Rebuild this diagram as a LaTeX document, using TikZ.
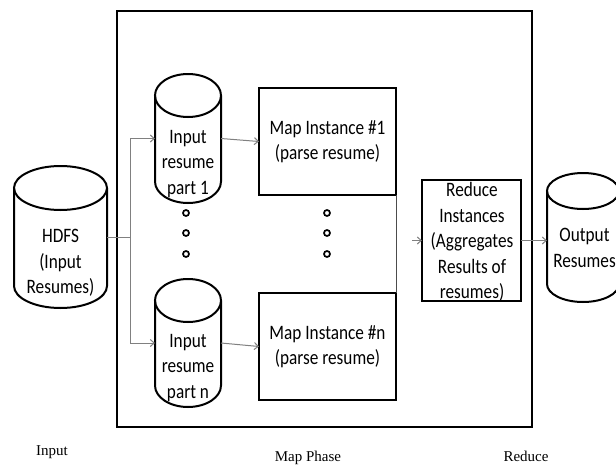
\documentclass[tikz,border=0pt]{standalone}
\usepackage{fontspec}
\setmainfont{Carlito}[FakeStretch=0.84]
\newfontfamily\serifl{Liberation Serif}
\usetikzlibrary{arrows.meta}
\newcommand{\cyl}[5]{% cx rx ytop ybot ry
  \draw[boxline] (#1-#2,-#3-#5) -- (#1-#2,-#4+#5)
     arc[start angle=180,end angle=360,x radius=#2,y radius=#5] -- (#1+#2,-#3-#5);
  \draw[boxline] (#1,-#3-#5) ellipse[x radius=#2,y radius=#5];}
\begin{document}
\begin{tikzpicture}[x=1pt,y=1pt,
  boxline/.style={line width=2pt,black},
  body/.style={draw=none,inner sep=0pt,outer sep=0pt},
  box/.style={draw,line width=2pt,inner sep=0pt,outer sep=0pt,align=center,
     font=\fontsize{20.5}{25.5}\selectfont},
  txt/.style={align=center,inner sep=0pt,font=\fontsize{20.5}{25.5}\selectfont},
  conn/.style={draw=black!50,line width=1pt},
  arr/.style={conn,-{Straight Barb[length=4pt,width=7pt]}},
  dot/.style={draw,line width=1.7pt,circle,minimum size=6pt,inner sep=0pt},
  captxt/.style={font=\serifl\fontsize{15}{16}\selectfont,inner sep=0pt}]
\useasboundingbox (0,0) rectangle (616,-466);
\fill[white] (0,0) rectangle (616,-466);

% big Map phase box
\node[draw,line width=2pt,minimum width=415pt,minimum height=416pt,inner sep=0pt] (phase) at (324.5,-219) {};

% cylinders
\cyl{60.5}{46.5}{166}{308}{22}
\node[body,minimum width=93pt,minimum height=142pt] (hdfs) at (60.5,-237) {};
\node[txt] (hdfst) at (60.5,-263) {HDFS\\(Input\\Resumes)};

\cyl{188}{33}{74}{203}{21.5}
\node[body,minimum width=66pt,minimum height=129pt] (in1) at (188,-138.5) {};
\node[txt] (in1t) at (188,-164) {Input\\resume\\part 1};

\cyl{188}{33}{279}{407}{21.5}
\node[body,minimum width=66pt,minimum height=128pt] (inn) at (188,-343) {};
\node[txt] (innt) at (188,-368) {Input\\resume\\part n};

\cyl{583}{36}{173}{302}{18}
\node[body,minimum width=72pt,minimum height=129pt] (out) at (583,-237.5) {};
\node[txt] (outt) at (584.5,-248) {Output\\Resumes};

% map boxes
\node[box,minimum width=137pt,minimum height=107pt] (map1) at (327.5,-141.5) {Map Instance \#1\\(parse resume)};
\node[box,minimum width=137pt,minimum height=107pt] (mapn) at (327.5,-346.5) {Map Instance \#n\\(parse resume)};

% reduce box
\node[box,minimum width=99pt,minimum height=121pt] (red) at (471.5,-240.5) {};
\node[txt] (redt) at (472,-242) {Reduce\\Instances\\(Aggregates\\Results of\\resumes)};

% dots
\foreach \yy in {213,233,254}{
  \node[dot] at (186,-\yy) {};
  \node[dot] at (327,-\yy) {};
}

% connectors
\coordinate (split) at (130,-237);
\coordinate (rin) at (412,-240.5);
\draw[conn] (hdfs.east) -- (split);
\draw[arr] (split) |- (in1.west);
\draw[arr] (split) |- (inn.west);
\draw[arr] (in1.east) -- (map1.west);
\draw[arr] (inn.east) -- (mapn.west);
\draw[draw=black!70,line width=0.8pt] (map1.south east) -- (mapn.north east);
\draw[arr] (rin) -- (red.west);
\draw[arr] (red.east) -- (red.east -| out.west);

% captions
\node[captxt] (cin) at (52,-452) {Input};
\node[captxt] (cmap) at (308,-458) {Map Phase};
\node[captxt] (cred) at (526,-456) {Reduce};
\end{tikzpicture}
\end{document}
